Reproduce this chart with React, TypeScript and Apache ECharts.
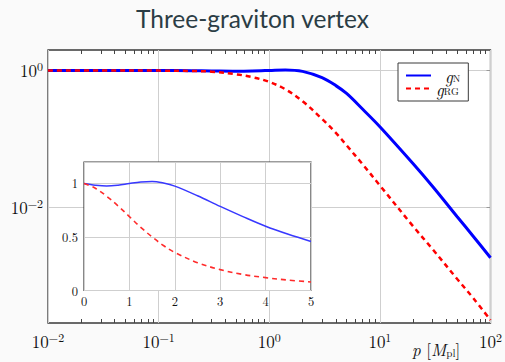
import React, { useEffect, useRef } from "react";
import * as echarts from "echarts";

// Main panel (log–log): momentum p in Planck units
const P_MAIN = [0.01, 0.03, 0.1, 0.2, 0.3, 0.5, 0.7, 1, 1.4, 2, 3, 4, 5, 7, 10, 20, 30, 50, 70, 100];
const GN_MAIN = [1, 1, 1, 0.993, 0.985, 0.976, 0.982, 1.0, 1.02, 0.97, 0.785, 0.6, 0.46, 0.27, 0.15, 0.043, 0.02, 0.0072, 0.0037, 0.0018];
const GRG_MAIN = [1, 0.9995, 0.995, 0.982, 0.96, 0.88, 0.8, 0.68, 0.53, 0.355, 0.195, 0.122, 0.08, 0.042, 0.0207, 0.0052, 0.0024, 0.00088, 0.00046, 0.00022];

// Inset panel (linear)
const P_INSET = [0, 0.25, 0.5, 0.75, 1, 1.25, 1.5, 1.75, 2, 2.5, 3, 3.5, 4, 4.5, 5];
const GN_INSET = [1, 0.984, 0.976, 0.984, 1.0, 1.014, 1.019, 1.004, 0.975, 0.885, 0.785, 0.69, 0.6, 0.525, 0.458];
const GRG_INSET = [1, 0.955, 0.88, 0.79, 0.69, 0.59, 0.5, 0.42, 0.355, 0.26, 0.195, 0.15, 0.12, 0.097, 0.08];

const Y_DECADES = [-2, 0];
const MINOR_MULT = [2, 3, 4, 5, 6, 7, 8, 9];

const SERIF = "'Latin Modern Roman', 'Liberation Serif', 'DejaVu Serif', serif";
const GRID_LINE = "#cfcfcf";
const FRAME = "#3a3a3a";

const pow10Label = (v: number) => {
  const e = Math.round(v);
  const s = e < 0 ? "\u2212" + Math.abs(e) : String(e);
  return "10{sup|" + s + "}";
};

const powRich = {
  sup: { fontSize: 12, fontFamily: SERIF, color: "#111", padding: [0, 0, 9, 0] },
};

export default function App() {
  const ref = useRef<HTMLDivElement>(null);

  useEffect(() => {
    if (!ref.current) return;
    const chart = echarts.init(ref.current, undefined, { renderer: "svg" });

    const minorTicks: number[] = [];
    for (let d = -2; d < 2; d++) {
      for (const m of MINOR_MULT) minorTicks.push(Math.log10(m) + d);
    }

    const mainN = P_MAIN.map((p, i) => [Math.log10(p), Math.log10(GN_MAIN[i])]);
    const mainRG = P_MAIN.map((p, i) => [Math.log10(p), Math.log10(GRG_MAIN[i])]);
    const insetN = P_INSET.map((p, i) => [p, GN_INSET[i]]);
    const insetRG = P_INSET.map((p, i) => [p, GRG_INSET[i]]);

    const noLine = { show: false, onZero: false };

    const option: any = {
      animation: false,
      backgroundColor: "#fafafa",
      title: {
        text: "Three-graviton vertex",
        left: "center",
        top: 1,
        textStyle: {
          fontFamily: "Lato, 'Open Sans', sans-serif",
          fontWeight: "normal",
          fontSize: 24.5,
          color: "#2b3d45",
        },
      },
      legend: {
        data: ["gN", "gRG"],
        orient: "vertical",
        left: 398,
        top: 63,
        itemWidth: 25,
        itemHeight: 10,
        itemGap: -4,
        padding: [4, 8, 4, 7],
        backgroundColor: "#fff",
        borderColor: FRAME,
        borderWidth: 1,
        borderRadius: 0,
        itemStyle: { opacity: 0, borderWidth: 0 },
        formatter: (name: string) => (name === "gN" ? "{sp|}{g|g}{s|N}" : "{g|g}{s|RG}"),
        textStyle: {
          lineHeight: 12,
          rich: {
            sp: { width: 9, lineHeight: 12 },
            g: { fontFamily: SERIF, fontStyle: "italic", fontSize: 17, color: "#111", lineHeight: 12 },
            s: { fontFamily: SERIF, fontSize: 10, color: "#111", lineHeight: 8, padding: [4, 0, 0, 0] },
          },
        },
      },
      grid: [
        {
          left: 48,
          top: 50,
          width: 444,
          height: 273,
          show: true,
          backgroundColor: "#fff",
          borderColor: FRAME,
          borderWidth: 1.3,
          z: 0,
        },
        {
          left: 84,
          top: 162,
          width: 227,
          height: 128.5,
          show: true,
          backgroundColor: "#fff",
          borderColor: FRAME,
          borderWidth: 1.2,
          z: 5,
        },
      ],
      xAxis: [
        {
          // bottom: decade labels + minor log ticks
          type: "value",
          gridIndex: 0,
          min: -2,
          max: 2,
          interval: 1,
          position: "bottom",
          z: 4,
          axisLine: noLine,
          axisTick: { show: true, inside: true, length: 4, customValues: minorTicks, lineStyle: { color: "#444", width: 1 } },
          splitLine: { show: false },
          axisLabel: {
            margin: 7,
            formatter: (v: number) => pow10Label(v),
            fontFamily: SERIF,
            fontSize: 17,
            color: "#111",
            rich: powRich,
          },
        },
        {
          // decade grid lines
          type: "value",
          gridIndex: 0,
          min: -2,
          max: 2,
          interval: 1,
          position: "top",
          z: 1,
          axisLine: noLine,
          axisTick: { show: false },
          axisLabel: { show: false },
          splitLine: { show: true, lineStyle: { color: GRID_LINE, width: 1 } },
        },
        {
          // top: minor log ticks
          type: "value",
          gridIndex: 0,
          min: -2,
          max: 2,
          position: "top",
          z: 4,
          axisLine: noLine,
          axisTick: { show: true, inside: true, length: 4, customValues: minorTicks, lineStyle: { color: "#444", width: 1 } },
          axisLabel: { show: false },
          splitLine: { show: false },
        },
        {
          type: "value",
          gridIndex: 1,
          min: 0,
          max: 5,
          interval: 1,
          z: 6,
          axisLine: noLine,
          axisTick: { show: false },
          splitLine: { show: true, lineStyle: { color: GRID_LINE, width: 1 } },
          axisLabel: { margin: 4, fontFamily: SERIF, fontSize: 12.5, color: "#111" },
        },
      ],
      yAxis: [
        {
          type: "value",
          gridIndex: 0,
          min: -3.7,
          max: 0.3,
          position: "left",
          axisLine: noLine,
          axisTick: { show: false, customValues: Y_DECADES },
          splitLine: { show: true, lineStyle: { color: GRID_LINE, width: 1 } },
          axisLabel: {
            customValues: Y_DECADES,
            margin: 5,
            formatter: (v: number) => pow10Label(v),
            fontFamily: SERIF,
            fontSize: 17,
            color: "#111",
            rich: powRich,
          },
        },
        {
          type: "value",
          gridIndex: 0,
          min: -3.7,
          max: 0.3,
          position: "right",
          axisLine: noLine,
          axisTick: { show: true, inside: true, length: 4, customValues: Y_DECADES, lineStyle: { color: "#999" } },
          axisLabel: { show: false },
          splitLine: { show: false },
        },
        {
          type: "value",
          gridIndex: 1,
          min: 0,
          max: 1.2,
          interval: 0.5,
          z: 6,
          axisLine: noLine,
          axisTick: { show: false },
          splitLine: { show: true, lineStyle: { color: GRID_LINE, width: 1 } },
          axisLabel: { margin: 6, showMaxLabel: false, fontFamily: SERIF, fontSize: 12.5, color: "#111" },
        },
      ],
      graphic: [
        {
          type: "text",
          left: 412,
          top: 340,
          z: 10,
          style: {
            text: "{i|p} [{i|M}{s|pl}]",
            fontFamily: SERIF,
            fontSize: 17,
            fill: "#111",
            rich: {
              i: { fontFamily: SERIF, fontStyle: "italic", fontSize: 17, fill: "#111" },
              s: { fontFamily: SERIF, fontSize: 11, fill: "#111", padding: [8, 0, 0, 0] },
            },
          },
        },
      ],
      series: [
        {
          name: "gN",
          type: "line",
          xAxisIndex: 0,
          yAxisIndex: 0,
          data: mainN,
          smooth: 0.35,
          showSymbol: false,
          symbol: "none",
          z: 3,
          lineStyle: { color: "#0000ff", width: 3 },
          itemStyle: { color: "#0000ff" },
        },
        {
          name: "gRG",
          type: "line",
          xAxisIndex: 0,
          yAxisIndex: 0,
          data: mainRG,
          smooth: 0.35,
          showSymbol: false,
          symbol: "none",
          z: 4,
          lineStyle: { color: "#ff0000", width: 2.5, type: [5, 4] },
          itemStyle: { color: "#ff0000" },
        },
        {
          name: "gN inset",
          type: "line",
          xAxisIndex: 3,
          yAxisIndex: 2,
          data: insetN,
          smooth: 0.35,
          showSymbol: false,
          symbol: "none",
          z: 8,
          lineStyle: { color: "#3838ff", width: 1.5 },
        },
        {
          name: "gRG inset",
          type: "line",
          xAxisIndex: 3,
          yAxisIndex: 2,
          data: insetRG,
          smooth: 0.35,
          showSymbol: false,
          symbol: "none",
          z: 8,
          lineStyle: { color: "#ff2b2b", width: 1.6, type: [5, 4] },
        },
      ],
    };

    chart.setOption(option);
    return () => chart.dispose();
  }, []);

  return (
    <div
      ref={ref}
      style={{ position: "fixed", left: 0, top: 0, width: 505, height: 362 }}
    />
  );
}
